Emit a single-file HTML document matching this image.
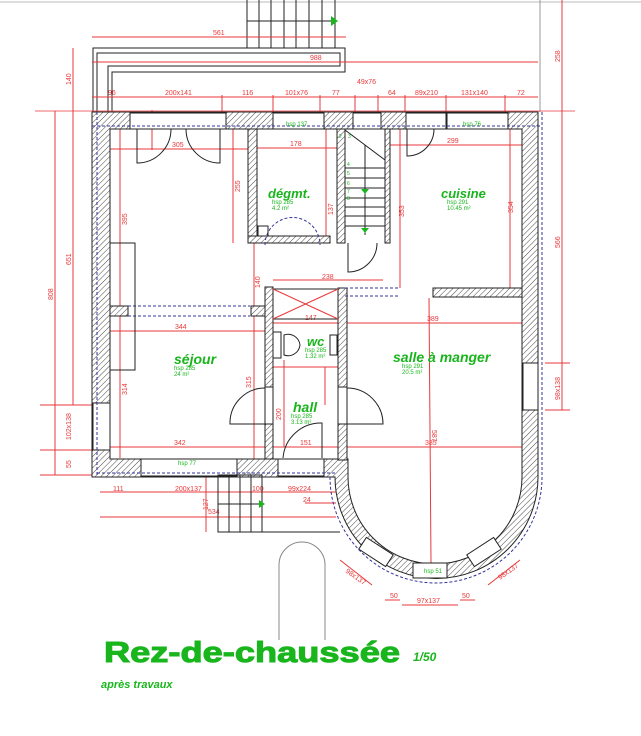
<!DOCTYPE html>
<html><head><meta charset="utf-8"><style>
html,body{margin:0;padding:0;background:#fff;}
svg{display:block;}
text{font-family:"Liberation Sans",sans-serif;}
.r{stroke:#e8393b;stroke-width:1;fill:none}
.rt{fill:#e8393b;font-size:7px}
.k{stroke:#222;stroke-width:1;fill:none}
.b{stroke:#33339a;stroke-width:1;fill:none;stroke-dasharray:3 2}
.g{fill:#19b51c;font-weight:bold;font-style:italic}
.gs{fill:#19b51c;font-size:6px}
</style></head><body>
<svg width="641" height="736" viewBox="0 0 641 736" xmlns="http://www.w3.org/2000/svg">
<defs>
<pattern id="h" width="4" height="4" patternUnits="userSpaceOnUse" patternTransform="rotate(45)">
<rect width="4" height="4" fill="#fff"/><line x1="0" y1="0" x2="0" y2="4" stroke="#333" stroke-width="0.9"/></pattern>
</defs>
<line x1="0" y1="2" x2="641" y2="2" stroke="#ddd" stroke-width="2"/>
<g class="k">
<line x1="247" y1="0" x2="247" y2="48"/><line x1="259" y1="0" x2="259" y2="48"/><line x1="271" y1="0" x2="271" y2="48"/><line x1="284" y1="0" x2="284" y2="48"/><line x1="296" y1="0" x2="296" y2="48"/><line x1="309" y1="0" x2="309" y2="48"/><line x1="322" y1="0" x2="322" y2="48"/><line x1="335" y1="0" x2="335" y2="48"/>
<line x1="247" y1="21" x2="335" y2="21"/>
<polyline points="93,112 93,48 345,48 345,72 112,72 112,112"/>
<polyline points="97,112 97,53 340,53 340,66 108,66 108,112"/>
<line x1="540" y1="0" x2="540" y2="112" stroke="#999"/>
</g>
<path d="M331 16 L338 21 L331 26 Z" fill="#19b51c"/>
<g class="r">
<line x1="92" y1="37" x2="346" y2="37"/>
<line x1="92" y1="62" x2="538" y2="62"/>
<line x1="92" y1="97" x2="538" y2="97"/>
<line x1="35" y1="111" x2="575" y2="111" stroke-width="0.8"/>
<line x1="73" y1="48" x2="73" y2="405"/><line x1="55" y1="111" x2="55" y2="475"/>
<line x1="40" y1="405" x2="110" y2="405"/><line x1="40" y1="450" x2="110" y2="450"/><line x1="40" y1="475" x2="92" y2="475"/>
<line x1="562" y1="0" x2="562" y2="410"/>
<line x1="545" y1="363" x2="570" y2="363"/><line x1="545" y1="410" x2="570" y2="410"/>
<line x1="100" y1="492" x2="336" y2="492"/><line x1="100" y1="517" x2="336" y2="517"/>
<line x1="305" y1="503" x2="336" y2="503"/>
<line x1="206" y1="475" x2="206" y2="532"/>
<line x1="152" y1="110" x2="152" y2="150"/><line x1="222" y1="95" x2="222" y2="112"/><line x1="273" y1="95" x2="273" y2="112"/><line x1="320" y1="95" x2="320" y2="112"/><line x1="355" y1="95" x2="355" y2="112"/><line x1="378" y1="95" x2="378" y2="112"/><line x1="405" y1="95" x2="405" y2="112"/><line x1="446" y1="95" x2="446" y2="112"/><line x1="505" y1="95" x2="505" y2="112"/>
<line x1="110" y1="149" x2="248" y2="149"/><line x1="257" y1="148" x2="337" y2="148"/><line x1="388" y1="145" x2="522" y2="145"/>
<line x1="120" y1="129" x2="120" y2="458"/><line x1="233" y1="129" x2="233" y2="243"/><line x1="326" y1="129" x2="326" y2="240"/>
<line x1="400" y1="129" x2="400" y2="288"/><line x1="510" y1="129" x2="510" y2="288"/>
<line x1="254" y1="243" x2="254" y2="460"/><line x1="273" y1="280" x2="383" y2="280"/>
<line x1="110" y1="331" x2="265" y2="331"/><line x1="347" y1="323" x2="522" y2="323"/>
<line x1="110" y1="447" x2="265" y2="447"/><line x1="273" y1="447" x2="338" y2="447"/><line x1="347" y1="447" x2="522" y2="447"/>
<line x1="273" y1="323" x2="338" y2="323"/><line x1="273" y1="367" x2="338" y2="367"/>
<line x1="429" y1="298" x2="431" y2="563"/>
<line x1="284" y1="360" x2="284" y2="447"/><line x1="325" y1="367" x2="325" y2="405"/>
<line x1="340" y1="560" x2="372" y2="585"/><line x1="520" y1="560" x2="488" y2="585"/>
<line x1="385" y1="600" x2="400" y2="600"/><line x1="402" y1="605" x2="458" y2="605"/><line x1="460" y1="600" x2="475" y2="600"/>
</g>
<g class="rt">
<text x="213" y="35">561</text><text x="310" y="60">988</text><text x="357" y="84">49x76</text>
<text x="108" y="95">96</text><text x="165" y="95">200x141</text><text x="242" y="95">116</text><text x="285" y="95">101x76</text><text x="332" y="95">77</text><text x="388" y="95">64</text><text x="415" y="95">89x210</text><text x="461" y="95">131x140</text><text x="517" y="95">72</text>
<text x="172" y="147">305</text><text x="290" y="146">178</text><text x="447" y="143">299</text>
<text x="175" y="329">344</text><text x="305" y="320">147</text><text x="427" y="321">389</text>
<text x="174" y="445">342</text><text x="300" y="445">151</text><text x="425" y="445">385</text>
<text x="322" y="279">238</text>
<text x="113" y="491">111</text><text x="175" y="491">200x137</text><text x="252" y="491">100</text><text x="288" y="491">99x224</text><text x="303" y="502">24</text><text x="208" y="514">534</text>
<text x="417" y="603">97x137</text><text x="390" y="598">50</text><text x="462" y="598">50</text>
<text transform="translate(71,85) rotate(-90)">140</text>
<text transform="translate(71,265) rotate(-90)">651</text>
<text transform="translate(53,300) rotate(-90)">808</text>
<text transform="translate(71,440) rotate(-90)">102x138</text>
<text transform="translate(71,468) rotate(-90)">55</text>
<text transform="translate(560,62) rotate(-90)">258</text>
<text transform="translate(560,248) rotate(-90)">566</text>
<text transform="translate(560,400) rotate(-90)">98x138</text>
<text transform="translate(127,225) rotate(-90)">395</text>
<text transform="translate(127,395) rotate(-90)">314</text>
<text transform="translate(240,192) rotate(-90)">255</text>
<text transform="translate(333,215) rotate(-90)">137</text>
<text transform="translate(404,217) rotate(-90)">353</text>
<text transform="translate(513,213) rotate(-90)">354</text>
<text transform="translate(251,388) rotate(-90)">315</text>
<text transform="translate(260,288) rotate(-90)">140</text>
<text transform="translate(281,420) rotate(-90)">200</text>
<text transform="translate(432,430) rotate(90)">587</text>
<text transform="translate(208,510) rotate(-90)">127</text>
<text transform="translate(345,572) rotate(35)">98x137</text>
<text transform="translate(500,580) rotate(-35)">98x137</text>
</g>
<path fill="url(#h)" stroke="#222" stroke-width="1" fill-rule="evenodd" d="
M92 112 L538 112 L538 477 A101 101 0 0 1 335 477 L335 477 L92 477 Z
M110 129 L522 129 L522 477 A87 87 0 0 1 348 477 L348 459 L110 459 Z"/>
<g fill="url(#h)" stroke="#222" stroke-width="1">
<rect x="248" y="129" width="9" height="114"/><rect x="248" y="236" width="82" height="7"/>
<rect x="337" y="129" width="8" height="114"/>
<rect x="385" y="129" width="5" height="114"/>
<rect x="265" y="287" width="8" height="172"/><rect x="338" y="288" width="9" height="172"/>
<rect x="433" y="288" width="89" height="9"/>
<rect x="110" y="306" width="18" height="10"/><rect x="251" y="306" width="14" height="10"/>
</g>
<g fill="#fff" stroke="#222" stroke-width="1">
<rect x="130" y="113" width="96" height="16"/><rect x="273" y="113" width="51" height="16"/><rect x="353" y="113" width="28" height="16"/>
<rect x="406" y="113" width="40" height="16"/><rect x="447" y="113" width="61" height="16"/>
<rect x="141" y="459" width="96" height="17"/><rect x="278" y="459" width="46" height="17"/>
<rect x="93" y="403" width="17" height="47"/><rect x="523" y="363" width="15" height="47"/>
<rect x="265" y="387" width="8" height="37"/><rect x="338" y="387" width="9" height="37"/>
<rect x="413" y="563" width="34" height="15"/>
<rect x="-16" y="-7" width="32" height="14" transform="translate(376,552) rotate(33)"/>
<rect x="-16" y="-7" width="32" height="14" transform="translate(484,552) rotate(-33)"/>
</g>
<g class="b">
<line x1="92" y1="126" x2="540" y2="126"/><line x1="97" y1="112" x2="97" y2="475"/><line x1="542" y1="112" x2="542" y2="480"/>
<line x1="97" y1="473" x2="335" y2="473"/><path d="M542 477 A106 106 0 0 1 330 477"/>
<line x1="128" y1="316" x2="250" y2="316"/><line x1="128" y1="306" x2="250" y2="306"/>
<path d="M265 245 A27 27 0 0 1 320 245"/>
<line x1="345" y1="288" x2="400" y2="288"/><line x1="345" y1="296" x2="400" y2="296"/>
</g>
<g class="gs"><text x="286" y="126">hsp 137</text><text x="463" y="126">hsp 76</text><text x="178" y="465">hsp 77</text><text x="424" y="573">hsp 51</text></g>
<g class="k">
<path d="M137 129 L137 163 A34 34 0 0 0 171 129"/><path d="M220 129 L220 163 A34 34 0 0 1 186 129"/>
<path d="M407 129 L407 156 A27 27 0 0 0 434 129"/>
<path d="M348 243 L348 272 A29 29 0 0 0 377 243"/>
<path d="M265 424 L230 424 A35 35 0 0 1 265 388"/>
<path d="M347 424 L383 424 A36 36 0 0 0 347 388"/>
<path d="M283 458 A38 38 0 0 1 322 423 L322 458"/>
<rect x="110" y="243" width="25" height="127"/>
<rect x="258" y="226" width="10" height="10"/>
<line x1="345" y1="168" x2="385" y2="168"/><line x1="345" y1="178" x2="385" y2="178"/><line x1="345" y1="188" x2="385" y2="188"/><line x1="345" y1="198" x2="385" y2="198"/><line x1="345" y1="207" x2="385" y2="207"/><line x1="345" y1="216" x2="385" y2="216"/><line x1="345" y1="226" x2="385" y2="226"/>
<line x1="365" y1="145" x2="365" y2="235"/>
<line x1="345" y1="130" x2="385" y2="160"/>
<path d="M284 335 A12 12 0 0 1 300 345 A12 12 0 0 1 284 355 Z"/>
<rect x="273" y="332" width="8" height="26"/><rect x="330" y="335" width="7" height="20"/>
<rect x="273" y="289" width="65" height="30"/><line x1="273" y1="289" x2="338" y2="319" stroke="#e8393b"/><line x1="338" y1="289" x2="273" y2="319" stroke="#e8393b"/>
<rect x="218" y="475" width="44" height="57"/>
<line x1="229" y1="475" x2="229" y2="532"/><line x1="240" y1="475" x2="240" y2="532"/><line x1="251" y1="475" x2="251" y2="532"/>
<line x1="218" y1="504" x2="262" y2="504"/><line x1="262" y1="532" x2="340" y2="532"/>
<path d="M279 640 L279 565 A23 23 0 0 1 325 565 L325 640" stroke="#888"/>
</g>
<path d="M259 500 L265 504 L259 508 Z" fill="#19b51c"/>
<path d="M361 189 L369 189 L365 194 Z" fill="#19b51c"/>
<path d="M361 228 L369 228 L365 233 Z" fill="#19b51c"/>
<g fill="#19b51c" font-size="5"><text x="339" y="138">2</text><text x="348" y="138">3</text><text x="347" y="166">4</text><text x="347" y="175">5</text><text x="347" y="185">6</text><text x="347" y="193">7</text><text x="347" y="200">8</text></g>
<text class="g" x="268" y="198" font-size="13">dégmt.</text><text class="gs" x="272" y="204">hsp 285</text><text class="gs" x="272" y="210">4.2 m²</text>
<text class="g" x="441" y="198" font-size="13">cuisine</text><text class="gs" x="447" y="204">hsp 291</text><text class="gs" x="447" y="210">10.45 m²</text>
<text class="g" x="174" y="364" font-size="14">séjour</text><text class="gs" x="174" y="370">hsp 285</text><text class="gs" x="174" y="376">24 m²</text>
<text class="g" x="307" y="346" font-size="13">wc</text><text class="gs" x="305" y="352">hsp 285</text><text class="gs" x="305" y="358">1.32 m²</text>
<text class="g" x="293" y="412" font-size="14">hall</text><text class="gs" x="291" y="418">hsp 285</text><text class="gs" x="291" y="424">3.13 m²</text>
<text class="g" x="393" y="362" font-size="14">salle à manger</text><text class="gs" x="402" y="368">hsp 291</text><text class="gs" x="402" y="374">20.5 m²</text>
<text x="104" y="662" font-size="29" font-weight="bold" fill="#19b51c" textLength="296" lengthAdjust="spacingAndGlyphs" stroke="#19b51c" stroke-width="1">Rez-de-chaussée</text>
<text x="413" y="661" font-size="12" font-weight="bold" font-style="italic" fill="#19b51c">1/50</text>
<text x="101" y="688" font-size="11" font-weight="bold" font-style="italic" fill="#19b51c">après travaux</text>
</svg>
</body></html>
